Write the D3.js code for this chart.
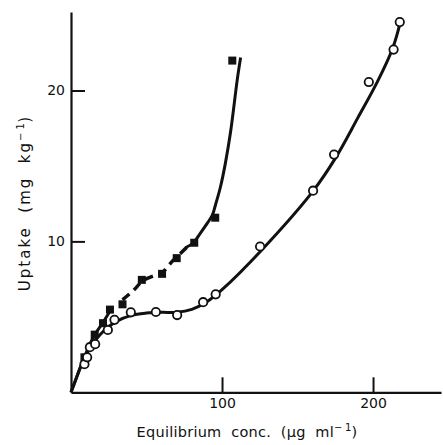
<!DOCTYPE html>
<html>
<head>
<meta charset="utf-8">
<script src="https://cdn.jsdelivr.net/npm/d3@7"></script>
<style>
  html, body { margin: 0; padding: 0; background: #fff; }
  svg { display: block; }
  text { font-family: "DejaVu Sans", "Liberation Sans", sans-serif; fill: #111; }
  .title { white-space: pre; }
</style>
</head>
<body>
<div id="chart"></div>
<script>
// open circles: equilibrium conc (ug/ml) and uptake (mg/kg)
var circleX = [8.9, 10.7, 12.5, 16.0, 24.4, 28.8, 39.6, 56.2, 70.3, 87.5, 95.8, 125.2, 160.3, 174.2, 197.2, 213.6, 217.7];
var circleY = [1.86, 2.32, 2.99, 3.19, 4.13, 4.80, 5.30, 5.32, 5.12, 5.97, 6.49, 9.66, 13.36, 15.75, 20.56, 22.71, 24.53];

// filled squares
var squareX = [8.9, 15.7, 21.2, 25.8, 34.1, 46.9, 60.3, 70.0, 81.6, 95.5, 106.8];
var squareY = [2.32, 3.82, 4.58, 5.48, 5.83, 7.45, 7.85, 8.89, 9.91, 11.57, 21.98];

// hand-drawn fitted curves
var fitCircleX = [0, 3, 6, 10, 15, 20, 25, 30, 40, 50, 60, 70, 80, 90, 100, 126, 160, 175, 190, 203, 213, 218.5];
var fitCircleY = [0, 0.8, 1.6, 2.5, 3.3, 3.9, 4.35, 4.7, 5.1, 5.25, 5.3, 5.3, 5.5, 6.0, 6.8, 9.4, 13.3, 15.5, 18.2, 20.6, 22.8, 24.7];

var fitSqLowX = [0, 3, 6, 10, 15, 21, 26];
var fitSqLowY = [0, 0.8, 1.6, 2.6, 3.7, 4.6, 5.4];

var fitSqDashX = [34.1, 41.8, 47.5, 56.9, 60.5, 67.2, 70.0, 77.8, 81.8];
var fitSqDashY = [6.13, 6.79, 7.39, 7.80, 7.95, 8.7, 8.95, 9.7, 9.95];

var fitSqHighX = [75.8, 81.1, 85.8, 90.4, 93.7, 95.7, 99.0, 102.3, 105.6, 110.1, 112.3];
var fitSqHighY = [9.58, 9.91, 10.57, 11.23, 11.76, 12.43, 13.62, 15.22, 17.21, 20.72, 22.18];

var xTicks = [100, 200];
var yTicks = [10, 20];

var width = 443, height = 445;
var svg = d3.select("#chart").append("svg").attr("width", width).attr("height", height);

var x = d3.scaleLinear().domain([0, 245]).range([71, 441]);
var y = d3.scaleLinear().domain([0, 25.2]).range([392.3, 12]);

function pts(xs, ys) { return xs.map(function (v, i) { return [v, ys[i]]; }); }

// axes
var xAxis = svg.append("g").attr("transform", "translate(0," + y(0) + ")")
  .call(d3.axisBottom(x).tickValues(xTicks).tickSize(-15).tickSizeOuter(0).tickPadding(6));
var yAxis = svg.append("g").attr("transform", "translate(" + x(0) + ",0)")
  .call(d3.axisLeft(y).tickValues(yTicks).tickSize(-14).tickSizeOuter(0).tickPadding(6));

[xAxis, yAxis].forEach(function (g) {
  g.select(".domain").attr("stroke", "#111").attr("stroke-width", 2.2);
  g.selectAll(".tick line").attr("stroke", "#111").attr("stroke-width", 2);
  g.selectAll(".tick text").attr("font-size", 14).attr("fill", "#111")
    .style("font-family", "'DejaVu Sans', sans-serif");
});

// fitted curves
var line = d3.line().x(function (d) { return x(d[0]); }).y(function (d) { return y(d[1]); })
  .curve(d3.curveCatmullRom.alpha(0.5));

svg.append("path").datum(pts(fitCircleX, fitCircleY)).attr("d", line)
  .attr("fill", "none").attr("stroke", "#111").attr("stroke-width", 3);
svg.append("path").datum(pts(fitSqLowX, fitSqLowY)).attr("d", line)
  .attr("fill", "none").attr("stroke", "#111").attr("stroke-width", 3);
svg.append("path").datum(pts(fitSqDashX, fitSqDashY)).attr("d", line)
  .attr("fill", "none").attr("stroke", "#111").attr("stroke-width", 3.5)
  .attr("stroke-dasharray", "9,6");
svg.append("path").datum(pts(fitSqHighX, fitSqHighY)).attr("d", line)
  .attr("fill", "none").attr("stroke", "#111").attr("stroke-width", 3);

// markers
svg.selectAll("rect.sq").data(pts(squareX, squareY)).enter().append("rect")
  .attr("class", "sq")
  .attr("x", function (d) { return x(d[0]) - 4; })
  .attr("y", function (d) { return y(d[1]) - 4; })
  .attr("width", 8).attr("height", 8)
  .attr("fill", "#111");

svg.selectAll("circle.pt").data(pts(circleX, circleY)).enter().append("circle")
  .attr("class", "pt")
  .attr("cx", function (d) { return x(d[0]); })
  .attr("cy", function (d) { return y(d[1]); })
  .attr("r", 4.2)
  .attr("fill", "#fff").attr("stroke", "#111").attr("stroke-width", 1.8);

// axis titles
var xt = svg.append("text").attr("class", "title").attr("x", 247).attr("y", 437)
  .attr("text-anchor", "middle").attr("font-size", 14.5).attr("letter-spacing", 0.25);
xt.append("tspan").text("Equilibrium  conc.  (\u03BCg  ml");
xt.append("tspan").attr("font-size", 10).attr("dy", -6).text("\u2212\u20091");
xt.append("tspan").attr("dy", 6).text(")");

var yt = svg.append("text").attr("class", "title").attr("transform", "translate(30,203) rotate(-90)")
  .attr("text-anchor", "middle").attr("font-size", 15).attr("letter-spacing", 2);
yt.append("tspan").text("Uptake  (mg  kg");
yt.append("tspan").attr("font-size", 10).attr("dy", -6).attr("letter-spacing", 0.5).text("\u2212\u20091");
yt.append("tspan").attr("dy", 6).text(")");
</script>
</body>
</html>
